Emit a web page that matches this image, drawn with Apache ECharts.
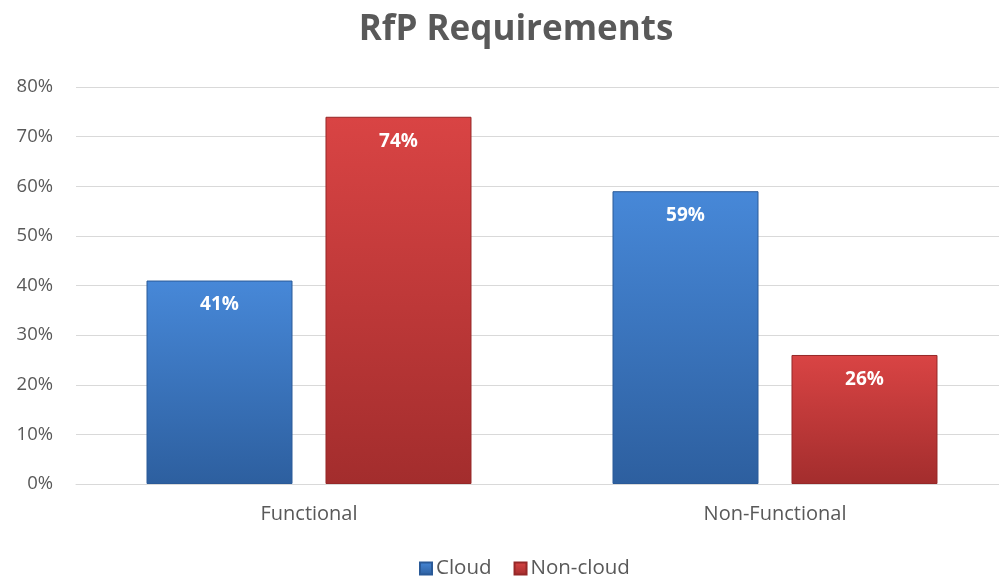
<!DOCTYPE html>
<html>
<head>
<meta charset="utf-8">
<script src="https://cdn.jsdelivr.net/npm/echarts@6/dist/echarts.min.js"></script>
<style>
  html, body { margin: 0; padding: 0; background: #fff; }
  #box { width: 999px; height: 577px; }
</style>
</head>
<body>
<div id="box"></div>
<script>
const categories = ['Functional', 'Non-Functional'];
const cloud = [41, 59];
const nonCloud = [74, 26];
const yTicks = [0, 10, 20, 30, 40, 50, 60, 70, 80];

const font = '"Open Sans", "Liberation Sans", sans-serif';

const grad = (top, bottom) => new echarts.graphic.LinearGradient(0, 0, 0, 1, [
  { offset: 0, color: top },
  { offset: 1, color: bottom }
]);

const chartDom = document.getElementById('box');
const myChart = echarts.init(chartDom);

const option = {
  animation: false,
  title: {
    text: 'RfP Requirements',
    left: 511,
    textAlign: 'center',
    top: 8,
    textStyle: { fontFamily: font, fontWeight: 'bold', fontSize: 35, color: '#595959' }
  },
  legend: {
    top: 553,
    left: 414,
    itemWidth: 12,
    itemHeight: 12,
    itemGap: 22,
    icon: 'rect',
    textStyle: { fontFamily: font, fontSize: 20.5, color: '#595959', padding: [0, 0, 0, -1] },
    data: ['Cloud', 'Non-cloud']
  },
  grid: {
    left: 76,
    top: 87,
    width: 932,
    bottom: 93,
    outerBoundsMode: 'none'
  },
  xAxis: {
    type: 'category',
    data: categories,
    axisTick: { show: false },
    axisLine: { lineStyle: { color: '#d9d9d9', width: 1 } },
    axisLabel: { fontFamily: font, fontSize: 20, color: '#595959', margin: 20 }
  },
  yAxis: {
    type: 'value',
    min: yTicks[0],
    max: yTicks[yTicks.length - 1],
    interval: 10,
    axisLabel: { formatter: '{value}%', fontFamily: font, fontSize: 18.5, color: '#595959', margin: 23 },
    splitLine: { lineStyle: { color: '#d9d9d9', width: 1 } },
    axisLine: { show: false },
    axisTick: { show: false }
  },
  series: [
    {
      name: 'Cloud',
      type: 'bar',
      data: cloud,
      barWidth: 146,
      barGap: '22.6%',
      itemStyle: {
        color: grad('#4788d8', '#2d5f9f'),
        borderColor: '#2a5a98',
        borderWidth: 1
      },
      label: {
        show: true,
        position: 'insideTop',
        distance: 15,
        formatter: '{c}%',
        fontFamily: font,
        fontWeight: 'bold',
        fontSize: 19,
        color: '#ffffff'
      }
    },
    {
      name: 'Non-cloud',
      type: 'bar',
      data: nonCloud,
      barWidth: 146,
      itemStyle: {
        color: grad('#d94444', '#a32d2d'),
        borderColor: '#962828',
        borderWidth: 1
      },
      label: {
        show: true,
        position: 'insideTop',
        distance: 15,
        formatter: '{c}%',
        fontFamily: font,
        fontWeight: 'bold',
        fontSize: 19,
        color: '#ffffff'
      }
    }
  ]
};

option && myChart.setOption(option);
window.addEventListener('resize', function () {
  if (myChart) {
    myChart.resize();
  }
});
</script>
</body>
</html>
